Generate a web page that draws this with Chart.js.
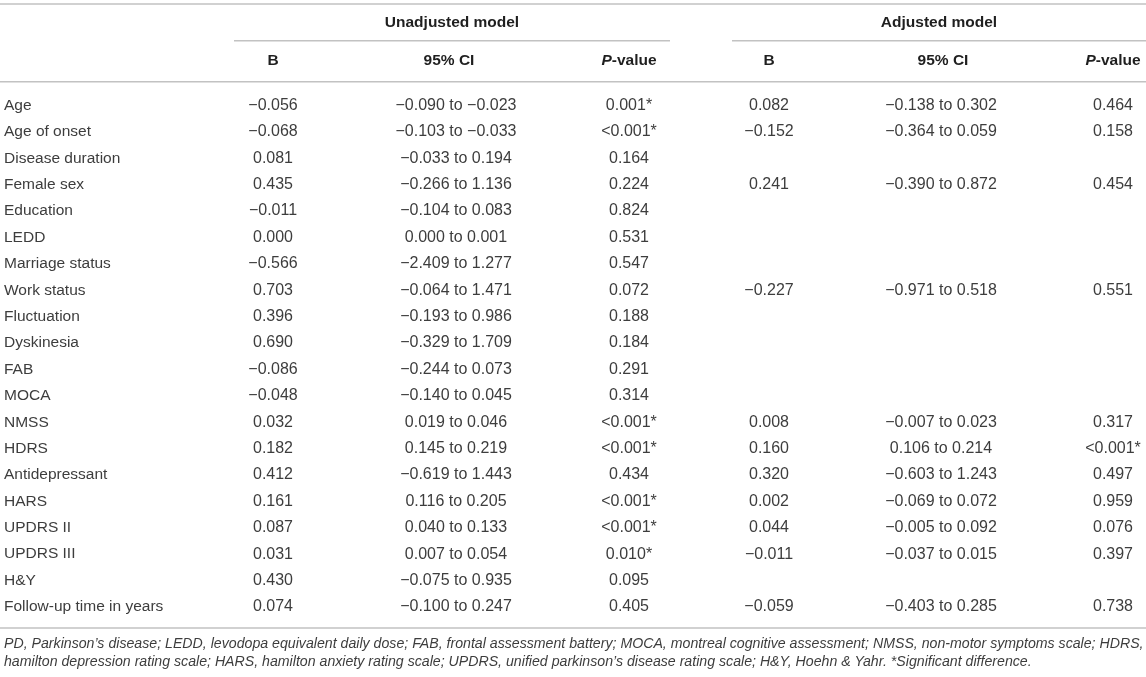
<!DOCTYPE html>
<html>
<head>
<meta charset="utf-8">
<title>Regression table</title>
<script src="https://cdn.jsdelivr.net/npm/chart.js@4/dist/chart.umd.min.js"></script>
<style>
    html, body { margin: 0; padding: 0; background: #ffffff; }
    #wrap { width: 1146px; height: 677px; position: relative; }
</style>
</head>
<body>
<div id="wrap"><canvas id="tableChart"></canvas></div>
<script>
// Row labels (variables)
const rowLabels = [
    'Age', 'Age of onset', 'Disease duration', 'Female sex', 'Education', 'LEDD',
    'Marriage status', 'Work status', 'Fluctuation', 'Dyskinesia', 'FAB', 'MOCA',
    'NMSS', 'HDRS', 'Antidepressant', 'HARS', 'UPDRS II', 'UPDRS III', 'H&Y',
    'Follow-up time in years'
];

// Unadjusted model
const unadjB = [-0.056, -0.068, 0.081, 0.435, -0.011, 0.000, -0.566, 0.703, 0.396, 0.690,
    -0.086, -0.048, 0.032, 0.182, 0.412, 0.161, 0.087, 0.031, 0.430, 0.074];
const unadjLow = [-0.090, -0.103, -0.033, -0.266, -0.104, 0.000, -2.409, -0.064, -0.193, -0.329,
    -0.244, -0.140, 0.019, 0.145, -0.619, 0.116, 0.040, 0.007, -0.075, -0.100];
const unadjHigh = [-0.023, -0.033, 0.194, 1.136, 0.083, 0.001, 1.277, 1.471, 0.986, 1.709,
    0.073, 0.045, 0.046, 0.219, 1.443, 0.205, 0.133, 0.054, 0.935, 0.247];
const unadjP = ['0.001*', '<0.001*', '0.164', '0.224', '0.824', '0.531', '0.547', '0.072', '0.188', '0.184',
    '0.291', '0.314', '<0.001*', '<0.001*', '0.434', '<0.001*', '<0.001*', '0.010*', '0.095', '0.405'];

// Adjusted model (null = not in model)
const adjB = [0.082, -0.152, null, 0.241, null, null, null, -0.227, null, null,
    null, null, 0.008, 0.160, 0.320, 0.002, 0.044, -0.011, null, -0.059];
const adjLow = [-0.138, -0.364, null, -0.390, null, null, null, -0.971, null, null,
    null, null, -0.007, 0.106, -0.603, -0.069, -0.005, -0.037, null, -0.403];
const adjHigh = [0.302, 0.059, null, 0.872, null, null, null, 0.518, null, null,
    null, null, 0.023, 0.214, 1.243, 0.072, 0.092, 0.015, null, 0.285];
const adjP = ['0.464', '0.158', null, '0.454', null, null, null, '0.551', null, null,
    null, null, '0.317', '<0.001*', '0.497', '0.959', '0.076', '0.397', null, '0.738'];

// Header texts
const groupHeaders = ['Unadjusted model', 'Adjusted model'];
const columnHeaders = ['B', '95% CI', 'P-value', 'B', '95% CI', 'P-value'];

const footnoteLines = [
    'PD, Parkinson\u2019s disease; LEDD, levodopa equivalent daily dose; FAB, frontal assessment battery; MOCA, montreal cognitive assessment; NMSS, non-motor symptoms scale; HDRS,',
    'hamilton depression rating scale; HARS, hamilton anxiety rating scale; UPDRS, unified parkinson\u2019s disease rating scale; H&Y, Hoehn & Yahr. *Significant difference.'
];

// Layout (x positions are in the x-scale's units)
const colCenter = [273, 456, 629, 769, 941, 1113];
const headCenter = [273, 449, 629, 769, 943, 1113];
const groupSpan = [[234, 670], [732, 1146]];

const FONT = '"Liberation Sans", Arial, Helvetica, sans-serif';
const TEXT_COLOR = '#3d3d3d';
const HEAD_COLOR = '#1f1f1f';
const RULE_COLOR = '#c2c2c2';

function fmt(v) {
    if (v === null || v === undefined) return null;
    return v.toFixed(3).replace('-', '\u2212');
}

function fmtCI(lo, hi) {
    if (lo === null || hi === null) return null;
    return fmt(lo) + ' to ' + fmt(hi);
}

function fmtP(p) {
    return p === null ? null : p;
}

function buildColumn(values, colIdx) {
    const pts = [];
    values.forEach((v, i) => {
        if (v !== null) {
            pts.push({ x: colCenter[colIdx], y: rowLabels[i], text: v });
        }
    });
    return {
        data: pts,
        pointRadius: 0,
        pointHoverRadius: 0,
        showLine: false
    };
}

const columns = [
    unadjB.map(fmt),
    unadjLow.map((lo, i) => fmtCI(lo, unadjHigh[i])),
    unadjP.map(fmtP),
    adjB.map(fmt),
    adjLow.map((lo, i) => fmtCI(lo, adjHigh[i])),
    adjP.map(fmtP)
];

function hline(ctx, x1, x2, y) {
    ctx.beginPath();
    ctx.moveTo(x1, y);
    ctx.lineTo(x2, y);
    ctx.stroke();
}

const tablePlugin = {
    id: 'tableText',
    afterDatasetsDraw(chart) {
        const ctx = chart.ctx;
        const xs = chart.scales.x;
        const W = chart.width;

        ctx.save();

        // Rules
        ctx.strokeStyle = RULE_COLOR;
        ctx.lineWidth = 1.6;
        hline(ctx, 0, W, 4);
        groupSpan.forEach(s => hline(ctx, xs.getPixelForValue(s[0]), xs.getPixelForValue(s[1]), 40.7));
        hline(ctx, 0, W, 81.7);
        hline(ctx, 0, W, 628);

        // Cell values
        ctx.fillStyle = TEXT_COLOR;
        ctx.font = '16px ' + FONT;
        ctx.textAlign = 'center';
        ctx.textBaseline = 'middle';
        chart.data.datasets.forEach((ds, d) => {
            const meta = chart.getDatasetMeta(d);
            meta.data.forEach((el, i) => {
                ctx.fillText(ds.data[i].text, el.x, el.y);
            });
        });

        // Group headers
        ctx.fillStyle = HEAD_COLOR;
        ctx.font = 'bold 15.5px ' + FONT;
        groupHeaders.forEach((h, g) => {
            const cx = (xs.getPixelForValue(groupSpan[g][0]) + xs.getPixelForValue(groupSpan[g][1])) / 2;
            ctx.fillText(h, cx, 23);
        });

        // Column headers (italic P in P-value)
        columnHeaders.forEach((h, j) => {
            const cx = xs.getPixelForValue(headCenter[j]);
            if (h.startsWith('P-')) {
                ctx.textAlign = 'left';
                ctx.font = 'italic bold 15.5px ' + FONT;
                const wP = ctx.measureText('P').width;
                ctx.font = 'bold 15.5px ' + FONT;
                const rest = h.slice(1);
                const wR = ctx.measureText(rest).width;
                const x0 = cx - (wP + wR) / 2;
                ctx.font = 'italic bold 15.5px ' + FONT;
                ctx.fillText('P', x0, 61);
                ctx.font = 'bold 15.5px ' + FONT;
                ctx.fillText(rest, x0 + wP, 61);
                ctx.textAlign = 'center';
            } else {
                ctx.fillText(h, cx, 61);
            }
        });

        // Footnote, sized to fill the width of the first line
        ctx.fillStyle = TEXT_COLOR;
        ctx.textAlign = 'left';
        ctx.font = 'italic 10px ' + FONT;
        const w10 = ctx.measureText(footnoteLines[0]).width;
        const fs = 10 * (W - 6) / w10;
        ctx.font = 'italic ' + fs.toFixed(2) + 'px ' + FONT;
        ctx.fillText(footnoteLines[0], 4, 644);
        ctx.fillText(footnoteLines[1], 4, 662);

        ctx.restore();
    }
};

const tableChart = new Chart(document.getElementById('tableChart'), {
    type: 'scatter',
    data: {
        datasets: columns.map((vals, j) => buildColumn(vals, j))
    },
    options: {
        responsive: true,
        maintainAspectRatio: false,
        animation: false,
        events: [],
        layout: {
            padding: { left: 4, right: 0, top: 92.3, bottom: 56.8 }
        },
        plugins: {
            legend: { display: false },
            tooltip: { enabled: false }
        },
        scales: {
            x: {
                type: 'linear',
                min: 200,
                max: 1146,
                display: false
            },
            y: {
                type: 'category',
                labels: rowLabels,
                offset: true,
                grid: { display: false },
                border: { display: false },
                afterFit(scale) {
                    scale.width = 196;
                },
                ticks: {
                    crossAlign: 'far',
                    padding: 0,
                    color: TEXT_COLOR,
                    font: { family: FONT, size: 15.5 },
                    autoSkip: false
                }
            }
        }
    },
    plugins: [tablePlugin]
});
</script>
</body>
</html>
